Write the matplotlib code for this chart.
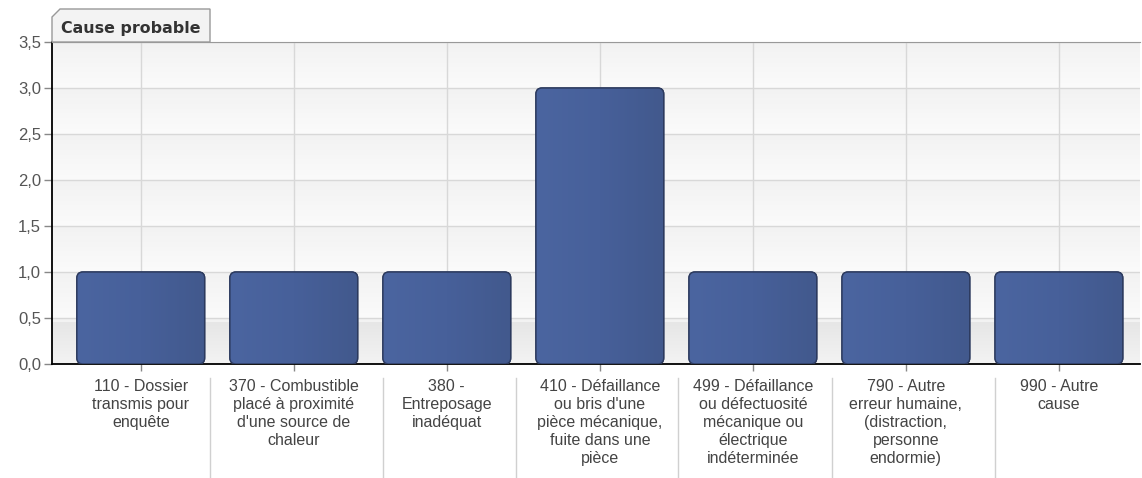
import numpy as np
import matplotlib.pyplot as plt
from matplotlib.colors import LinearSegmentedColormap
from matplotlib.patches import FancyBboxPatch, Polygon

plt.rcParams['font.family'] = ['Liberation Sans', 'DejaVu Sans']

# data
categories = [
    "110 - Dossier\ntransmis pour\nenquête",
    "370 - Combustible\nplacé à proximité\nd'une source de\nchaleur",
    "380 -\nEntreposage\ninadéquat",
    "410 - Défaillance\nou bris d'une\npièce mécanique,\nfuite dans une\npièce",
    "499 - Défaillance\nou défectuosité\nmécanique ou\nélectrique\nindéterminée",
    "790 - Autre\nerreur humaine,\n(distraction,\npersonne\nendormie)",
    "990 - Autre\ncause",
]
values = [1, 1, 1, 3, 1, 1, 1]
y_ticks = [0.0, 0.5, 1.0, 1.5, 2.0, 2.5, 3.0, 3.5]
y_labels = [f"{v:.1f}".replace(".", ",") for v in y_ticks]
title = "Cause probable"

# label separator offsets (right of each label box)
sep_off = [0.45, 0.58, 0.45, 0.51, 0.52, 0.58]

W, H = 1142, 478
fig = plt.figure(figsize=(W / 100, H / 100), dpi=100)
ax = fig.add_axes([52 / W, (H - 364) / H, (1140 - 52) / W, (364 - 42) / H])

xmin, xmax = -0.58, 6.53
ax.set_xlim(xmin, xmax)
ax.set_ylim(0, 3.5)

# background bands with soft gradient
ax.set_facecolor('#f6f6f6')
grad = np.linspace(0, 1, 50).reshape(-1, 1)
bg = LinearSegmentedColormap.from_list('bg', ['#fbfbfb', '#f2f2f2'])
bg2 = LinearSegmentedColormap.from_list('bg2', ['#f3f3f3', '#e6e6e6'])
for lo in np.arange(0, 3.5, 0.5):
    ax.imshow(grad, extent=(xmin, xmax, lo, lo + 0.5), aspect='auto',
              cmap=bg, origin='lower', zorder=0, vmin=0, vmax=1)
ax.imshow(grad, extent=(xmin, xmax, 0, 0.45), aspect='auto',
          cmap=bg2, origin='lower', zorder=0, vmin=0, vmax=1)

ax.set_yticks(y_ticks)
ax.set_yticklabels(y_labels)
ax.set_xticks(range(len(categories)))
ax.set_xticklabels([])
ax.grid(True, color='#d8d8d8', linewidth=1, zorder=1)
ax.set_axisbelow(True)

# rounded bars with a horizontal gradient
bar_w = 0.835
px_x = (1140 - 52) / (xmax - xmin)
px_y = 322 / 3.5
hgrad = np.linspace(0, 1, 64).reshape(1, -1)
barcm = LinearSegmentedColormap.from_list('bar', ['#4b65a0', '#47609a', '#42598d'])
for i, v in enumerate(values):
    p = FancyBboxPatch((i - bar_w / 2, 0), bar_w, v,
                       boxstyle="round,pad=0,rounding_size=0.04",
                       mutation_aspect=px_x / px_y,
                       facecolor='#4a629a', edgecolor='#2c3a5e',
                       linewidth=1.0, zorder=3)
    ax.add_patch(p)
    im = ax.imshow(hgrad, extent=(i - bar_w / 2, i + bar_w / 2, 0, v),
                   aspect='auto', cmap=barcm, zorder=3.1, vmin=0, vmax=1)
    im.set_clip_path(p)
    ax.add_patch(FancyBboxPatch((i - bar_w / 2, 0), bar_w, v,
                                boxstyle="round,pad=0,rounding_size=0.04",
                                mutation_aspect=px_x / px_y,
                                facecolor='none', edgecolor='#2c3a5e',
                                linewidth=1.0, zorder=3.2))
ax.set_xlim(xmin, xmax)
ax.set_ylim(0, 3.5)

ax.spines['right'].set_visible(False)
ax.spines['top'].set_color('#999999')
ax.spines['left'].set_color('#000000')
ax.spines['bottom'].set_color('#000000')
ax.spines['left'].set_linewidth(1.3)
ax.spines['bottom'].set_linewidth(1.3)
ax.tick_params(axis='y', colors='#888888', labelcolor='#555555',
               labelsize=12, length=6, width=1, pad=2)
ax.tick_params(axis='x', colors='#888888', length=5, width=1)

# category labels and separators
for i, lab in enumerate(categories):
    ax.text(i, -0.165, lab, ha='center', va='top', fontsize=11.5,
            color='#444444', linespacing=1.25, clip_on=False)
    if i < len(sep_off):
        ax.plot([i + sep_off[i]] * 2, [-0.15, -1.25], color='#d0d0d0',
                linewidth=1, clip_on=False, zorder=1)

# title tab
x0, x1, yt, yb, c = 52, 210, 9, 42, 8
pts = [(x0, H - yb), (x0, H - yt - c), (x0 + c, H - yt), (x1, H - yt), (x1, H - yb)]
tab = Polygon([(px / W, py / H) for px, py in pts], closed=True,
              transform=fig.transFigure, facecolor='#f3f3f3',
              edgecolor='#999999', linewidth=1, zorder=5)
fig.patches.append(tab)
fig.text((x0 + 9) / W, (H - 28) / H, title, fontsize=11.4, fontweight='bold',
         color='#333333', va='center', ha='left', zorder=6,
         family=['DejaVu Sans'])

fig.savefig('out.png', dpi=100)
